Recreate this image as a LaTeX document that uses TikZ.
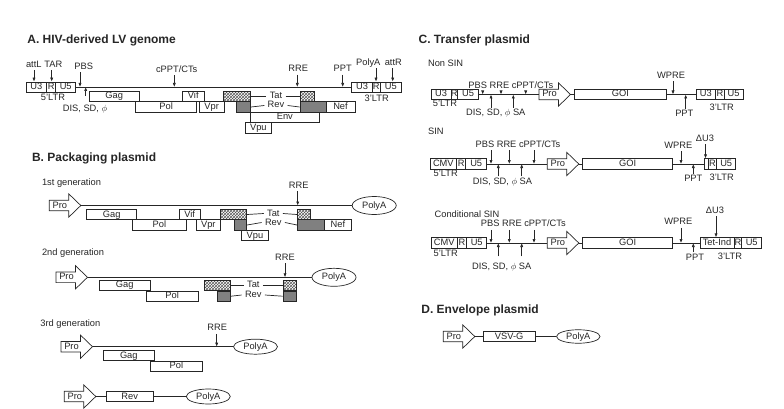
\documentclass[tikz,border=0pt]{standalone}
\usepackage{fontspec}
\setmainfont{Liberation Sans}
\usetikzlibrary{arrows.meta,patterns,shapes.geometric}

\tikzset{
  lbl/.style={font=\fontsize{9.3}{10}\selectfont, inner sep=1pt, text height=6.6pt, text depth=1.6pt},
  ttl/.style={font=\fontsize{12}{14}\selectfont\bfseries, inner sep=0pt, anchor=base west},
  gene/.style={lbl, draw, fill=white, inner sep=0pt, minimum height=10.5pt},
  tatbox/.style={draw, pattern=crosshatch, pattern color=black!65, inner sep=0pt, minimum height=10.5pt},
  revbox/.style={draw, fill=black!50, inner sep=0pt, minimum height=10.5pt},
  polya/.style={lbl, draw, ellipse, fill=white, inner sep=0pt, minimum width=44pt, minimum height=15pt},
  mk/.style={-{Latex[length=4pt,width=3.2pt]}},
  pro/.pic={
    \draw[fill=white] (0,-5.3) -- (19.5,-5.3) -- (19.5,-11.6) -- (31.5,0) -- (19.5,11.6) -- (19.5,5.3) -- (0,5.3) -- cycle;
    \node[lbl] (-txt) at (10.5,0) {Pro};
    \coordinate (-tail) at (0,0);
    \coordinate (-tip) at (31.5,0);
  }
}

\begin{document}
\begin{tikzpicture}[x=1pt, y=-1pt, line width=0.7pt, color=black!85]
  \useasboundingbox (0,0) rectangle (784,409);

  % A: HIV-derived LV genome
  \node[ttl] (a-title) at (27,43.3) {A. HIV-derived LV genome};
  \coordinate (a-l) at (0,87);
  \foreach \xa/\xb/\lab/\nm in {26/46.7/U3/u3, 46.7/55.7/R/r, 55.7/75.7/U5/u5,
                                351.7/372.3/U3/u3r, 372.3/380/R/rr, 380/401.7/U5/u5r}
    \node[gene, minimum height=10pt, minimum width={(\xb-\xa)*1pt}] (a-\nm) at ({(\xa+\xb)/2},87) {\lab};
  \draw (a-u5.east) -- (a-u3r.west);
  \foreach \xa/\xb/\y/\lab/\nm in {89/139.3/96.5/Gag/gag, 135.7/196.7/107/Pol/pol,
                                   182.3/204.3/96.5/Vif/vif, 199.3/224/107/Vpr/vpr,
                                   250.7/319/117.5/Env/env, 245.7/271/128/Vpu/vpu,
                                   326/355/107/Nef/nef}
    \node[gene, minimum width={(\xb-\xa)*1pt}] (a-\nm) at ({(\xa+\xb)/2},\y) {\lab};
  \foreach \xa/\xb/\nm in {223.3/250.7/tat1, 300/314/tat2}
    \node[tatbox, minimum width={(\xb-\xa)*1pt}] (a-\nm) at ({(\xa+\xb)/2},96.5) {};
  \foreach \xa/\xb/\nm in {236/250.7/rev1, 300/326/rev2}
    \node[revbox, minimum width={(\xb-\xa)*1pt}] (a-\nm) at ({(\xa+\xb)/2},107) {};
  \node[lbl, inner xsep=3pt] (a-tat) at (276,96.5) {Tat};
  \node[lbl, inner xsep=3pt] (a-rev) at (276,105.5) {Rev};
  \draw (a-tat1.east) -- (a-tat.west) (a-tat.east) -- (a-tat2.west);
  \draw (a-rev1.east) -- (a-rev.west) (a-rev.east) -- (a-rev2.west);
  \node[lbl] (a-attl) at (33.8,65) {attL};
  \node[lbl] (a-tar) at (53.3,65) {TAR};
  \node[lbl] (a-pbs) at (83.8,67) {PBS};
  \node[lbl] (a-cppt) at (176.7,70) {cPPT/CTs};
  \node[lbl] (a-rre) at (298.3,69.3) {RRE};
  \node[lbl] (a-ppt) at (342.7,69.3) {PPT};
  \node[lbl] (a-polya) at (368.3,62.7) {PolyA};
  \node[lbl] (a-attr) at (393.3,62.7) {attR};
  \foreach \x/\nm/\to in {34/attl/u3.north, 51.7/tar/r.north, 80/pbs/l, 174.3/cppt/l,
                          297.3/rre/l, 342.7/ppt/l, 376/polya/rr.north, 392.7/attr/u5r.north}
    \draw[mk] (\x,0 |- a-\nm.south) -- (\x,0 |- a-\to);
  \node[lbl] (a-ltr5) at (53,98.5) {5'LTR};
  \node[lbl] (a-ltr3) at (376.7,99) {3'LTR};
  \node[lbl] (a-dis) at (85,109) {DIS, SD, $\phi$};
  \draw[mk] ([xshift=0.7pt,yshift=8pt]a-dis.north) -- ([xshift=0.7pt]a-dis.north |- a-l);

  % B: packaging plasmid
  \node[ttl] (b-title) at (31.7,161.5) {B. Packaging plasmid};
  % 1st generation
  \node[lbl, anchor=west] (b1-name) at (40.7,183.3) {1st generation};
  \pic (b1-pro) at (49.3,205.5) {pro};
  \node[polya, minimum height=18pt] (b1-pa) at (374.2,205.5) {PolyA};
  \draw (b1-pro-tip) -- (b1-pa.west);
  \foreach \xa/\xb/\y/\lab/\nm in {86.7/136.7/214.5/Gag/gag, 132.7/186/225/Pol/pol,
                                   179.3/200/214.5/Vif/vif, 196/220.7/225/Vpr/vpr,
                                   241.7/268.3/235.5/Vpu/vpu, 324/351.7/225/Nef/nef}
    \node[gene, minimum width={(\xb-\xa)*1pt}] (b1-\nm) at ({(\xa+\xb)/2},\y) {\lab};
  \foreach \xa/\xb/\nm in {220.7/246.7/tat1, 297.3/310.7/tat2}
    \node[tatbox, minimum width={(\xb-\xa)*1pt}] (b1-\nm) at ({(\xa+\xb)/2},214.5) {};
  \foreach \xa/\xb/\nm in {234.3/246.7/rev1, 297.3/324/rev2}
    \node[revbox, minimum width={(\xb-\xa)*1pt}] (b1-\nm) at ({(\xa+\xb)/2},225) {};
  \node[lbl, inner xsep=3pt] (b1-tat) at (273.3,213.5) {Tat};
  \node[lbl, inner xsep=3pt] (b1-rev) at (273.3,222.5) {Rev};
  \draw (b1-tat1.east) -- (b1-tat.west) (b1-tat.east) -- (b1-tat2.west);
  \draw (b1-rev1.east) -- (b1-rev.west) (b1-rev.east) -- (b1-rev2.west);
  \node[lbl] (b1-rre) at (298.7,185.7) {RRE};
  \draw[mk] (297.7,0 |- b1-rre.south) -- (297.7,0 |- b1-pro-tip);
  % 2nd generation
  \node[lbl, anchor=west] (b2-name) at (40.7,253.3) {2nd generation};
  \pic (b2-pro) at (56,277.3) {pro};
  \node[polya, minimum height=18pt] (b2-pa) at (334,277.3) {PolyA};
  \draw (b2-pro-tip) -- (b2-pa.west);
  \foreach \xa/\xb/\y/\lab/\nm in {99.3/150/285.3/Gag/gag, 146/198.3/296.2/Pol/pol}
    \node[gene, minimum width={(\xb-\xa)*1pt}] (b2-\nm) at ({(\xa+\xb)/2},\y) {\lab};
  \foreach \xa/\xb/\nm in {204.3/230.7/tat1, 283/296/tat2}
    \node[tatbox, minimum width={(\xb-\xa)*1pt}] (b2-\nm) at ({(\xa+\xb)/2},285.3) {};
  \foreach \xa/\xb/\nm in {217.3/230.7/rev1, 283/296/rev2}
    \node[revbox, minimum width={(\xb-\xa)*1pt}] (b2-\nm) at ({(\xa+\xb)/2},296.2) {};
  \node[lbl, inner xsep=3pt] (b2-tat) at (253.3,285.3) {Tat};
  \node[lbl, inner xsep=3pt] (b2-rev) at (253.3,295) {Rev};
  \draw (b2-tat1.east) -- (b2-tat.west) (b2-tat.east) -- (b2-tat2.west);
  \draw (b2-rev1.east) -- (b2-rev.west) (b2-rev.east) -- (b2-rev2.west);
  \node[lbl] (b2-rre) at (285,258) {RRE};
  \draw[mk] (285,0 |- b2-rre.south) -- (285,0 |- b2-pro-tip);
  % 3rd generation
  \node[lbl, anchor=west] (b3-name) at (39,324.3) {3rd generation};
  \pic (b3-pro) at (61,346.7) {pro};
  \node[polya] (b3-pa) at (255.5,346.7) {PolyA};
  \draw (b3-pro-tip) -- (b3-pa.west);
  \foreach \xa/\xb/\y/\lab/\nm in {103.3/154.3/355.5/Gag/gag, 150/202.7/366.2/Pol/pol}
    \node[gene, minimum width={(\xb-\xa)*1pt}] (b3-\nm) at ({(\xa+\xb)/2},\y) {\lab};
  \node[lbl] (b3-rre) at (217.3,328.3) {RRE};
  \draw[mk] (216.7,0 |- b3-rre.south) -- (216.7,0 |- b3-pro-tip);
  % Rev plasmid
  \pic (b4-pro) at (64.3,396.5) {pro};
  \node[gene, minimum width=47.3pt] (b4-rev) at (129.7,396.5) {Rev};
  \node[polya] (b4-pa) at (208.3,396.5) {PolyA};
  \draw (b4-pro-tip) -- (b4-rev.west) (b4-rev.east) -- (b4-pa.west);

  % C: transfer plasmid
  \node[ttl] (c-title) at (418.3,43.2) {C. Transfer plasmid};
  % Non SIN
  \node[lbl, anchor=west] (c1-name) at (426.7,64) {Non SIN};
  \coordinate (c1-l) at (0,94.5);
  \foreach \xa/\xb/\lab/\nm in {431/451/U3/u3, 451/457.7/R/r, 457.7/478.3/U5/u5,
                                696/715.7/U3/u3r, 715.7/724/R/rr, 724/743.3/U5/u5r,
                                574.3/666.7/GOI/goi}
    \node[gene, minimum width={(\xb-\xa)*1pt}] (c1-\nm) at ({(\xa+\xb)/2},94.5) {\lab};
  \pic (c1-pro) at (539,94.5) {pro};
  \draw (c1-u5.east) -- (c1-pro-tail) (c1-pro-tip) -- (c1-goi.west) (c1-goi.east) -- (c1-u3r.west);
  \node[lbl] (c1-ltr5) at (445,104.5) {5'LTR};
  \node[lbl] (c1-ltr3) at (721.7,108.3) {3'LTR};
  \node[lbl] (c1-top) at (510.8,85.7) {PBS RRE cPPT/CTs};
  \foreach \x in {482.7, 501, 525.7}
    \draw[mk] (\x,0 |- c1-top.south) -- (\x,0 |- c1-l);
  \node[lbl] (c1-dis) at (495.8,113.3) {DIS, SD, $\phi$ SA};
  \foreach \x in {491, 513.3}
    \draw[mk] (\x,0 |- c1-dis.north) -- (\x,0 |- c1-l);
  \node[lbl] (c1-wpre) at (671,75.7) {WPRE};
  \draw[mk] (673,0 |- c1-wpre.south) -- (673,0 |- c1-l);
  \node[lbl] (c1-ppt) at (684.3,114) {PPT};
  \draw[mk] (685.7,0 |- c1-ppt.north) -- (685.7,0 |- c1-l);
  % SIN
  \node[lbl, anchor=west] (c2-name) at (426.7,132.3) {SIN};
  \coordinate (c2-l) at (0,164);
  \foreach \xa/\xb/\lab/\nm in {430/456.7/CMV/cmv, 456.7/465.7/R/r, 465.7/486.7/U5/u5,
                                708.3/716.7/R/rr, 716.7/735.7/U5/u5r, 582.7/672.7/GOI/goi}
    \node[gene, minimum width={(\xb-\xa)*1pt}] (c2-\nm) at ({(\xa+\xb)/2},164) {\lab};
  \node[gene, minimum width=4pt] (c2-du3) at (706.3,164) {};
  \pic (c2-pro) at (547.3,164) {pro};
  \draw (c2-u5.east) -- (c2-pro-tail) (c2-pro-tip) -- (c2-goi.west) (c2-goi.east) -- (c2-du3.west);
  \node[lbl] (c2-ltr5) at (445.7,174.3) {5'LTR};
  \node[lbl] (c2-ltr3) at (721.7,177.7) {3'LTR};
  \node[lbl] (c2-top) at (518,145) {PBS RRE cPPT/CTs};
  \foreach \x in {491, 509.3, 534}
    \draw[mk] (\x,0 |- c2-top.south) -- (\x,0 |- c2-l);
  \node[lbl] (c2-dis) at (502.5,181.7) {DIS, SD, $\phi$ SA};
  \foreach \x in {498.3, 521.7}
    \draw[mk] (\x,0 |- c2-dis.north) -- (\x,0 |- c2-l);
  \node[lbl] (c2-wpre) at (678.3,145.7) {WPRE};
  \draw[mk] (681,0 |- c2-wpre.south) -- (681,0 |- c2-l);
  \node[lbl] (c2-dlab) at (705,139) {ΔU3};
  \draw[mk] (705.5,0 |- c2-dlab.south) -- (705.5,0 |- c2-du3.north);
  \node[lbl] (c2-ppt) at (693.3,179.3) {PPT};
  \draw[mk] (693.3,0 |- c2-ppt.north) -- (693.3,0 |- c2-l);
  % Conditional SIN
  \node[lbl, anchor=west] (c3-name) at (433.3,215) {Conditional SIN};
  \coordinate (c3-l) at (0,243);
  \foreach \xa/\xb/\lab/\nm in {431/457.3/CMV/cmv, 457.3/466.7/R/r, 466.7/486.7/U5/u5,
                                700/734/Tet-Ind/tet, 734/741.7/R/rr, 741.7/761.7/U5/u5r,
                                582.7/672.7/GOI/goi}
    \node[gene, minimum width={(\xb-\xa)*1pt}] (c3-\nm) at ({(\xa+\xb)/2},243) {\lab};
  \pic (c3-pro) at (547.3,243) {pro};
  \draw (c3-u5.east) -- (c3-pro-tail) (c3-pro-tip) -- (c3-goi.west) (c3-goi.east) -- (c3-tet.west);
  \node[lbl] (c3-ltr5) at (445.7,254.3) {5'LTR};
  \node[lbl] (c3-ltr3) at (730,256.7) {3'LTR};
  \node[lbl] (c3-top) at (523.3,224.3) {PBS RRE cPPT/CTs};
  \foreach \x in {491, 509.3, 534}
    \draw[mk] (\x,0 |- c3-top.south) -- (\x,0 |- c3-l);
  \node[lbl] (c3-dis) at (501.7,266.7) {DIS, SD, $\phi$ SA};
  \foreach \x in {498.3, 521.7}
    \draw[mk] ([yshift=5pt]\x,0 |- c3-dis.north) -- (\x,0 |- c3-l);
  \node[lbl] (c3-wpre) at (678.3,222.3) {WPRE};
  \draw[mk] (681,0 |- c3-wpre.south) -- (681,0 |- c3-l);
  \node[lbl] (c3-dlab) at (715,211) {ΔU3};
  \draw[mk] (716,0 |- c3-dlab.south) -- (716,0 |- c3-tet.north);
  \node[lbl] (c3-ppt) at (695,257.7) {PPT};
  \draw[mk] (693.3,0 |- c3-ppt.north) -- (693.3,0 |- c3-l);

  % D: envelope plasmid
  \node[ttl] (d-title) at (421,313.5) {D. Envelope plasmid};
  \pic (d-pro) at (443.3,336.5) {pro};
  \node[gene, minimum width=51.7pt] (d-vsvg) at (509.2,336.5) {VSV-G};
  \node[polya, minimum width=43.5pt, minimum height=13.5pt] (d-pa) at (578.3,336.5) {PolyA};
  \draw (d-pro-tip) -- (d-vsvg.west) (d-vsvg.east) -- (d-pa.west);
\end{tikzpicture}
\end{document}
